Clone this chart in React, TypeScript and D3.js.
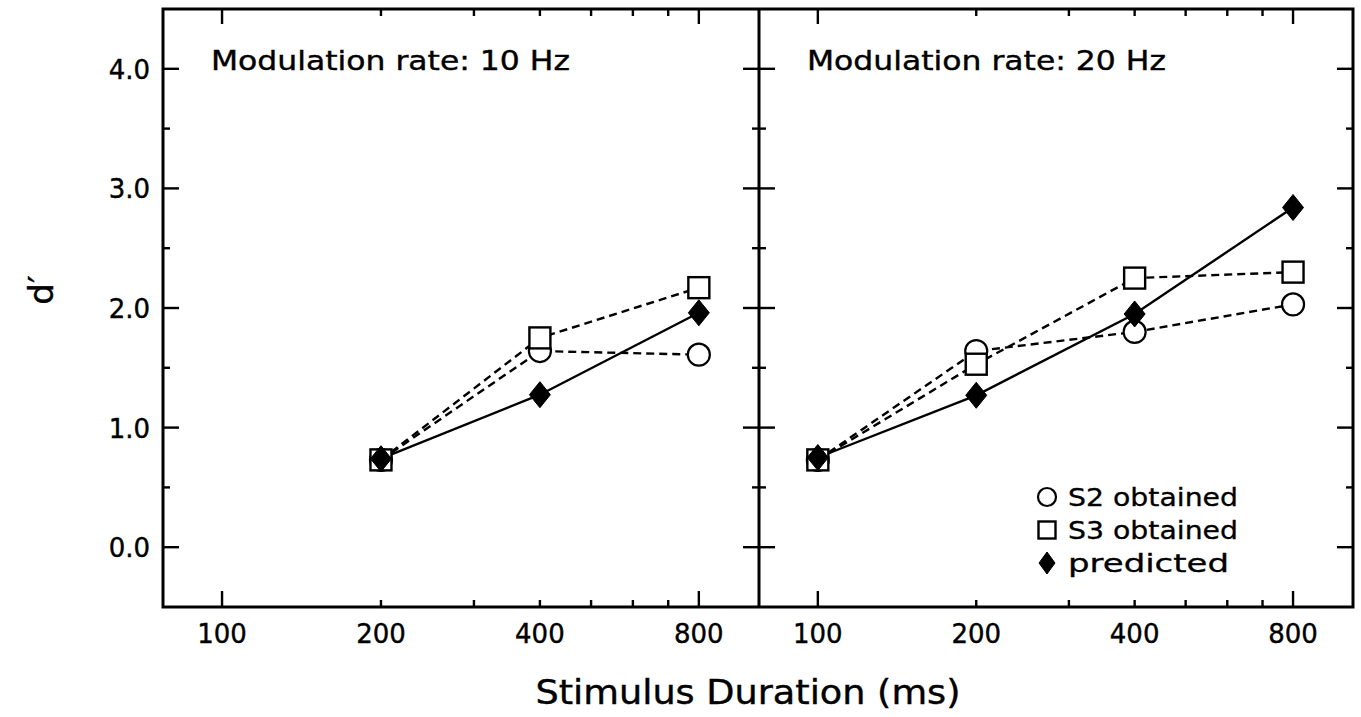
import React from "react";
import * as d3 from "d3";

const W = 1361;
const H = 717;

const durations10 = [200, 400, 800];
const s2Obtained10 = [0.73, 1.64, 1.61];
const s3Obtained10 = [0.73, 1.75, 2.17];
const predicted10 = [0.74, 1.275, 1.96];

const durations20 = [100, 200, 400, 800];
const s2Obtained20 = [0.73, 1.64, 1.8, 2.03];
const s3Obtained20 = [0.73, 1.53, 2.25, 2.3];
const predicted20 = [0.75, 1.27, 1.95, 2.84];

const xTickLabels = [100, 200, 400, 800];
const xMinorTicks = [200, 300, 400, 500, 600, 700];
const xLongTicks = [100, 800];
const yTicks = [0, 1, 2, 3, 4];
const yMinorTicks = [0.5, 1.5, 2.5, 3.5];

const titles = ["Modulation rate: 10 Hz", "Modulation rate: 20 Hz"];
const legendLabels = ["S2 obtained", "S3 obtained", "predicted"];
const legendWidths = [170, 170, 161];

const FONT = "'DejaVu Sans', sans-serif";
const TEXT_STROKE = 0.4;

const top = 9;
const bottom = 607;
const panelEdges = [163, 759, 1353];

const y = d3.scaleLinear().domain([-0.5, 4.5]).range([bottom, top]);

function Circle({ cx, cy, r }: { cx: number; cy: number; r: number }) {
  return <circle cx={cx} cy={cy} r={r} fill="#fff" stroke="#000" strokeWidth={2.2} />;
}
function Square({ cx, cy, s }: { cx: number; cy: number; s: number }) {
  return <rect x={cx - s / 2} y={cy - s / 2} width={s} height={s} fill="#fff" stroke="#000" strokeWidth={2.4} />;
}
function Diamond({ cx, cy, w, h }: { cx: number; cy: number; w: number; h: number }) {
  return (
    <path
      d={`M${cx},${cy - h}L${cx + w},${cy}L${cx},${cy + h}L${cx - w},${cy}Z`}
      fill="#000"
      stroke="#000"
      strokeWidth={1}
    />
  );
}

function Panel({
  idx,
  durations,
  s2,
  s3,
  pred,
}: {
  idx: number;
  durations: number[];
  s2: number[];
  s3: number[];
  pred: number[];
}) {
  const x0 = panelEdges[idx];
  const x1 = panelEdges[idx + 1];
  const x = d3.scaleLog().domain([77.3, 1040]).range([x0, x1]);
  const line = d3
    .line<[number, number]>()
    .x((d) => x(d[0]))
    .y((d) => y(d[1]));
  const pts = (vals: number[]) => durations.map((d, i) => [d, vals[i]] as [number, number]);
  const tickStroke = 2.4;
  return (
    <g>
      {xMinorTicks.map((t) => (
        <g key={"xm" + t}>
          <line x1={x(t)} x2={x(t)} y1={bottom} y2={bottom - 7} stroke="#000" strokeWidth={tickStroke} />
          <line x1={x(t)} x2={x(t)} y1={top} y2={top + 7} stroke="#000" strokeWidth={tickStroke} />
        </g>
      ))}
      {xLongTicks.map((t) => (
        <g key={"xl" + t}>
          <line x1={x(t)} x2={x(t)} y1={bottom} y2={bottom - 16} stroke="#000" strokeWidth={tickStroke} />
          <line x1={x(t)} x2={x(t)} y1={top} y2={top + 15} stroke="#000" strokeWidth={tickStroke} />
        </g>
      ))}
      {xTickLabels.map((t) => (
        <text
          key={"xt" + t}
          x={x(t)}
          y={643}
          textAnchor="middle"
          fontFamily={FONT}
          fontSize={26}
          fill="#000"
          stroke="#000"
          strokeWidth={TEXT_STROKE}
        >
          {t}
        </text>
      ))}
      {yTicks.map((t) => (
        <g key={"yt" + t}>
          <line x1={x0} x2={x0 + 16} y1={y(t)} y2={y(t)} stroke="#000" strokeWidth={tickStroke} />
          <line x1={x1} x2={x1 - 16} y1={y(t)} y2={y(t)} stroke="#000" strokeWidth={tickStroke} />
        </g>
      ))}
      {yMinorTicks.map((t) => (
        <g key={"ym" + t}>
          <line x1={x0} x2={x0 + 7} y1={y(t)} y2={y(t)} stroke="#000" strokeWidth={tickStroke} />
          <line x1={x1} x2={x1 - 7} y1={y(t)} y2={y(t)} stroke="#000" strokeWidth={tickStroke} />
        </g>
      ))}
      <text
        x={x0 + 48}
        y={70}
        fontFamily={FONT}
        fontSize={27}
        fill="#000"
        stroke="#000"
        strokeWidth={TEXT_STROKE}
        textLength={359}
        lengthAdjust="spacingAndGlyphs"
      >
        {titles[idx]}
      </text>
      <path d={line(pts(s2)) || ""} fill="none" stroke="#000" strokeWidth={2.4} strokeDasharray="8,5" />
      <path d={line(pts(s3)) || ""} fill="none" stroke="#000" strokeWidth={2.4} strokeDasharray="8,5" />
      <path d={line(pts(pred)) || ""} fill="none" stroke="#000" strokeWidth={2.4} />
      {durations.map((d, i) => (
        <Circle key={"c" + i} cx={x(d)} cy={y(s2[i])} r={11} />
      ))}
      {durations.map((d, i) => (
        <Square key={"s" + i} cx={x(d)} cy={y(s3[i])} s={21} />
      ))}
      {durations.map((d, i) => (
        <Diamond key={"d" + i} cx={x(d)} cy={y(pred[i])} w={10.5} h={13} />
      ))}
    </g>
  );
}

export default function App() {
  const lx = 1047;
  const ly = [497, 530, 563];
  return (
    <svg
      width={W}
      height={H}
      style={{ position: "absolute", left: 0, top: 0, background: "#fff" }}
    >
      <rect x={0} y={0} width={W} height={H} fill="#fff" />
      <Panel idx={0} durations={durations10} s2={s2Obtained10} s3={s3Obtained10} pred={predicted10} />
      <Panel idx={1} durations={durations20} s2={s2Obtained20} s3={s3Obtained20} pred={predicted20} />
      <rect
        x={panelEdges[0]}
        y={top}
        width={panelEdges[2] - panelEdges[0]}
        height={bottom - top}
        fill="none"
        stroke="#000"
        strokeWidth={3}
      />
      <line x1={panelEdges[1]} x2={panelEdges[1]} y1={top} y2={bottom} stroke="#000" strokeWidth={3} />
      {yTicks.map((t) => (
        <text
          key={"yl" + t}
          x={150}
          y={y(t) + 10}
          textAnchor="end"
          fontFamily={FONT}
          fontSize={26}
          fill="#000"
          stroke="#000"
          strokeWidth={TEXT_STROKE}
        >
          {t.toFixed(1)}
        </text>
      ))}
      <text
        x={748}
        y={704}
        textAnchor="middle"
        fontFamily={FONT}
        fontSize={33}
        fill="#000"
        stroke="#000"
        strokeWidth={TEXT_STROKE}
        textLength={425}
        lengthAdjust="spacingAndGlyphs"
      >
        Stimulus Duration (ms)
      </text>
      <text
        transform="translate(53,290) rotate(-90)"
        textAnchor="middle"
        fontFamily={FONT}
        fontSize={34}
        fill="#000"
        stroke="#000"
        strokeWidth={TEXT_STROKE}
      >
        d′
      </text>
      <Circle cx={lx} cy={ly[0]} r={9} />
      <Square cx={lx} cy={ly[1]} s={17} />
      <Diamond cx={lx} cy={ly[2]} w={8} h={11} />
      {legendLabels.map((l, i) => (
        <text
          key={l}
          x={1068}
          y={ly[i] + 9}
          fontFamily={FONT}
          fontSize={25}
          fill="#000"
          stroke="#000"
          strokeWidth={TEXT_STROKE * 0.8}
          textLength={legendWidths[i]}
          lengthAdjust="spacingAndGlyphs"
        >
          {l}
        </text>
      ))}
    </svg>
  );
}
